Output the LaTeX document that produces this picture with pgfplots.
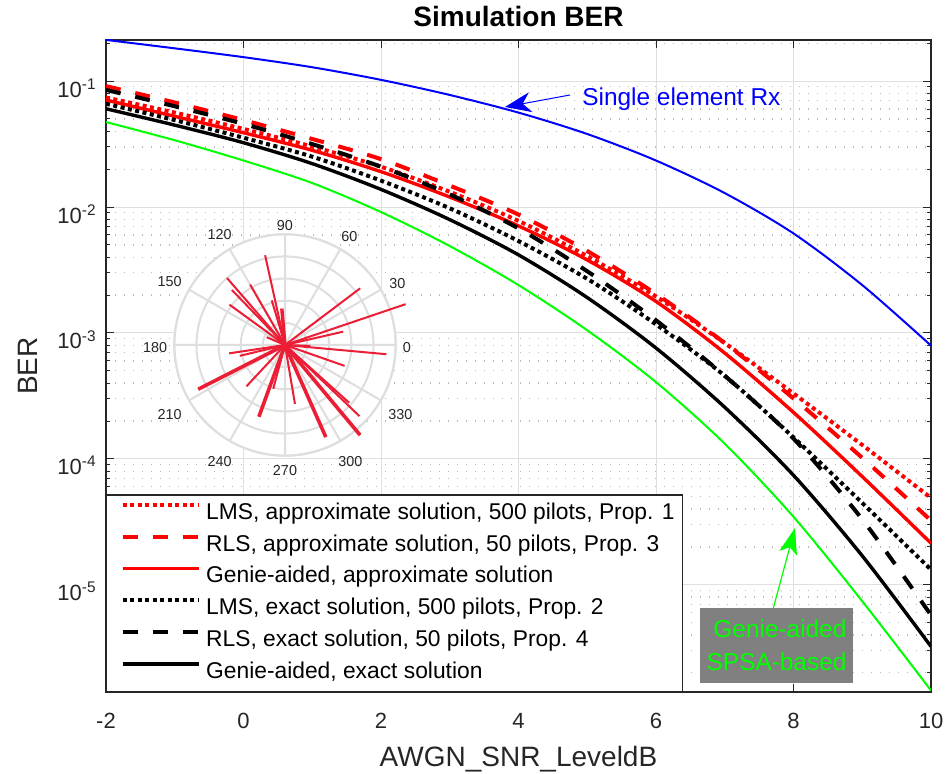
\documentclass[border=0pt]{standalone}
\usepackage{fontspec}
\setmainfont{Liberation Sans}
\usepackage{pgfplots}
\usepackage{pgfplotstable}
\pgfplotsset{compat=1.18}
\usepgfplotslibrary{polar}
\usetikzlibrary{arrows.meta}

\definecolor{axc}{RGB}{38,38,38}
\definecolor{gridmaj}{RGB}{223,223,223}
\definecolor{gridmin}{RGB}{185,185,185}
\definecolor{pgrid}{RGB}{222,222,222}
\definecolor{crim}{RGB}{236,30,54}
\definecolor{boxgray}{RGB}{128,128,128}
\definecolor{lime}{RGB}{0,255,0}

\pgfplotsset{
  dotted2/.style={line width=2pt, dash pattern=on 2pt off 1.75pt},
  dashed2/.style={line width=2pt, dash pattern=on 7.5pt off 7.5pt},
  solid2/.style={line width=1.7pt},
  pl/.style={crim, line width=1pt, mark=none},
}

% BER, one row per dB
\pgfplotstableread{
snr lmsapx   rlsapx    genapx    lmsex     rlsex      genex      single   spsa
-2  0.0741   0.0912    0.0708    0.0661    0.0851     0.0603     0.2123   0.0473
-1  0.0562   0.0676    0.0525    0.0490    0.0631     0.0447     0.1820   0.0339
0   0.0417   0.0490    0.0389    0.0355    0.0457     0.0324     0.1549   0.0234
1   0.0302   0.0347    0.0282    0.0251    0.0316     0.0221     0.1288   0.0155
2   0.0209   0.0240    0.0191    0.0162    0.0209     0.0138     0.1023   0.00912
3   0.0132   0.0148    0.0120    0.00977   0.0126     0.00794    0.0776   0.00490
4   0.00776  0.00871   0.00708   0.00537   0.00676    0.00417    0.0562   0.00240
5   0.00407  0.00447   0.00380   0.00269   0.00309    0.00191    0.0380   0.00105
6   0.00195  0.00204   0.00178   0.00117   0.00126    0.000759   0.0234   0.000407
7   0.000832 0.000832  0.000692  0.000457  0.000457   0.000257   0.0129   0.000132
8   0.000331 0.000302  0.000234  0.000148  0.000145   0.0000741  0.00617  0.0000347
9   0.000129 0.000102  0.0000724 0.0000447 0.0000331  0.0000170  0.00240  0.00000741
10  0.0000490 0.0000324 0.0000214 0.0000132 0.00000575 0.00000324 0.000794 0.00000145
}\bertab

\begin{document}
\begin{tikzpicture}
\begin{axis}[
  at={(0,0)}, anchor=south west,
  scale only axis, width=412.5pt, height=326pt,
  xmin=-2, xmax=10,
  ymode=log, log basis y=10, ymin=1.41e-6, ymax=0.212,
  xtick={-2,0,...,10},
  ytick={1e-5,1e-4,1e-3,1e-2,1e-1},
  minor ytick={2e-6,3e-6,4e-6,5e-6,6e-6,7e-6,8e-6,9e-6,
    2e-5,3e-5,4e-5,5e-5,6e-5,7e-5,8e-5,9e-5,
    2e-4,3e-4,4e-4,5e-4,6e-4,7e-4,8e-4,9e-4,
    2e-3,3e-3,4e-3,5e-3,6e-3,7e-3,8e-3,9e-3,
    2e-2,3e-2,4e-2,5e-2,6e-2,7e-2,8e-2,9e-2,0.2},
  grid=both,
  major grid style={draw=gridmaj, line width=0.5pt},
  minor grid style={draw=gridmin, line width=0.6pt, dash pattern=on 0.7pt off 3.8pt},
  axis line style={draw=axc, line width=0.8pt},
  tick style={draw=axc, line width=0.5pt},
  major tick length=4pt, minor tick length=2.2pt,
  /pgf/number format/assume math mode=true,
  tick label style={font=\fontsize{11}{13}\selectfont, text=axc, inner sep=0pt},
  xticklabel style={anchor=base, yshift=-18pt},
  yticklabel={10\textsuperscript{\pgfmathparse{int(round(\tick))}\pgfmathresult}},
  yticklabel style={anchor=base east, xshift=-4.5pt, yshift=-8pt},
  xlabel={AWGN\_SNR\_LeveldB},
  ylabel={BER},
  label style={font=\fontsize{14}{16}\selectfont, text=axc},
  xlabel style={at={(axis description cs:0.5,-0.115)}, anchor=base},
  ylabel style={at={(axis description cs:-0.0836,0.5)}, anchor=base},
  legend cell align=left,
  legend image code/.code={\path (0pt,4.5pt); \draw[#1] (3pt,4.5pt) -- (41pt,4.5pt);},
  legend style={at={(0,0)}, anchor=south west, draw=axc, line width=0.6pt,
    fill=white, font=\fontsize{11.4}{13}\selectfont,
    inner xsep=4pt, inner ysep=3.9pt, row sep=5.25pt,
    nodes={inner sep=0pt, text height=8pt, text depth=2.5pt},
    /tikz/every odd column/.style={column sep=2.8pt}},
]
\addplot[red, dotted2, smooth] table[x=snr, y=lmsapx]{\bertab};
\addlegendentry{LMS, approximate solution, 500 pilots, Prop. 1}
\addplot[red, dashed2, smooth] table[x=snr, y=rlsapx]{\bertab};
\addlegendentry{RLS, approximate solution, 50 pilots, Prop. 3}
\addplot[red, solid2, smooth] table[x=snr, y=genapx]{\bertab};
\addlegendentry{Genie-aided, approximate solution}
\addplot[black, dotted2, smooth] table[x=snr, y=lmsex]{\bertab};
\addlegendentry{LMS, exact solution, 500 pilots, Prop. 2}
\addplot[black, dashed2, smooth] table[x=snr, y=rlsex]{\bertab};
\addlegendentry{RLS, exact solution, 50 pilots, Prop. 4}
\addplot[black, solid2, smooth] table[x=snr, y=genex]{\bertab};
\addlegendentry{Genie-aided, exact solution}
\addplot[blue, line width=1pt, smooth, forget plot] table[x=snr, y=single]{\bertab};
\addplot[lime, line width=1pt, smooth, forget plot] table[x=snr, y=spsa]{\bertab};
\end{axis}

% title
\node[anchor=base, inner sep=0pt, text=black, font=\fontsize{14}{16}\selectfont\bfseries]
  at (206.25pt,332.5pt) {Simulation BER};

% inset: compass plot
\fill[white] (89.5pt,173.5pt) circle (55.35pt);
\begin{polaraxis}[
  at={(89.5pt,173.5pt)}, anchor=center,
  scale only axis, width=110.7pt, height=110.7pt,
  ymin=0, ymax=1,
  xtick={0,30,...,330}, ytick={0.2,0.4,0.6,0.8,1},
  yticklabel=\empty,
  grid=major, major grid style={draw=pgrid, line width=1pt},
  axis line style={draw=pgrid, line width=1pt},
  major tick length=0pt,
  xticklabel={\pgfmathprintnumber[assume math mode=true]{\tick}},
  xticklabel style={font=\fontsize{7.2}{8}\selectfont, text=axc, yshift=-1.5pt},
  clip=false,
]
\addplot[pl] coordinates {(0,0) (102.5,0.83)};
\addplot[pl] coordinates {(0,0) (130.9,0.80)};
\addplot[pl] coordinates {(0,0) (134,0.69)};
\addplot[pl] coordinates {(0,0) (120,0.63)};
\addplot[pl] coordinates {(0,0) (144,0.62)};
\addplot[pl] coordinates {(0,0) (106.5,0.42)};
\addplot[pl, line width=1.7pt] coordinates {(0,0) (95,0.33)};
\addplot[pl] coordinates {(0,0) (37,0.85)};
\addplot[pl] coordinates {(0,0) (18.7,1.15)};
\addplot[pl] coordinates {(0,0) (12.9,0.54)};
\addplot[pl] coordinates {(0,0) (354.8,0.92)};
\addplot[pl] coordinates {(0,0) (340.7,0.57)};
\addplot[pl] coordinates {(0,0) (316.3,0.93)};
\addplot[pl, line width=1.8pt] coordinates {(0,0) (309.8,1.06)};
\addplot[pl, line width=1.8pt] coordinates {(0,0) (293.9,0.91)};
\addplot[pl] coordinates {(0,0) (279.6,0.54)};
\addplot[pl, line width=1.8pt] coordinates {(0,0) (250,0.69)};
\addplot[pl] coordinates {(0,0) (255,0.41)};
\addplot[pl] coordinates {(0,0) (227,0.51)};
\addplot[pl, line width=1.8pt] coordinates {(0,0) (207,0.88)};
\addplot[pl] coordinates {(0,0) (188.5,0.51)};
\addplot[pl] coordinates {(0,0) (193.5,0.42)};
\addplot[pl] coordinates {(0,0) (157,0.18)};
\addplot[pl] coordinates {(0,0) (358,0.23)};
\addplot[pl] coordinates {(0,0) (318,0.78)};
\end{polaraxis}

% annotations
\node[anchor=west, inner sep=0pt, text=blue, font=\fontsize{12.2}{14}\selectfont]
  at (238pt,296.5pt) {Single element Rx};
\draw[blue, line width=0.5pt, -{Stealth[length=13pt, width=10pt, inset=4pt]}]
  (232pt,298.5pt) -- (199.5pt,292.5pt);
\fill[boxgray] (297pt,4.65pt) rectangle (373.35pt,41.85pt);
\node[anchor=base east, inner sep=0pt, text=lime, font=\fontsize{12.2}{14}\selectfont]
  at (370.4pt,27pt) {Genie-aided};
\node[anchor=base east, inner sep=0pt, text=lime, font=\fontsize{12.2}{14}\selectfont]
  at (370.4pt,10.8pt) {SPSA-based};
\draw[lime, line width=0.6pt, -{Stealth[length=13pt, width=9pt, inset=3pt]}]
  (333.65pt,42pt) -- (344.5pt,82pt);

\pgfresetboundingbox
\path[use as bounding box] (-53pt,-41pt) rectangle (421pt,346pt);
\end{tikzpicture}
\end{document}
